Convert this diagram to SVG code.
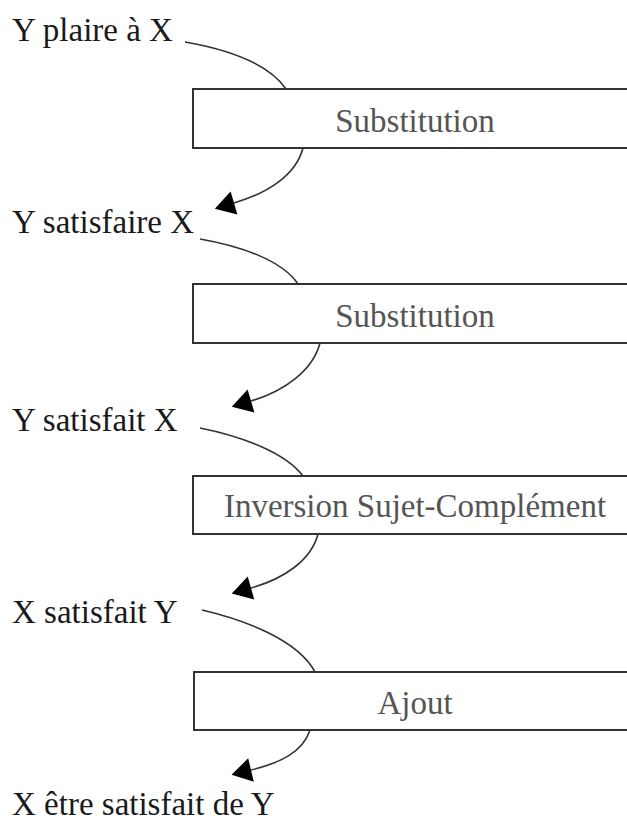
<svg xmlns="http://www.w3.org/2000/svg" width="627" height="823" viewBox="0 0 627 823">
<style>
.lbl{font-family:'Liberation Serif','Tinos','Times New Roman','DejaVu Serif',serif;font-size:33px;fill:#1a1a1a}
.box rect{fill:#fff;stroke:#333;stroke-width:2}
.box text{font-family:'Liberation Serif','Tinos','Times New Roman','DejaVu Serif',serif;font-size:33px;fill:#555;text-anchor:middle}
.edge{fill:none;stroke:#333;stroke-width:1.6}
</style>
<defs>
<marker id="arr" markerUnits="userSpaceOnUse" markerWidth="30" markerHeight="30" refX="0" refY="12" orient="auto" overflow="visible">
<path d="M0,0 L20,12 L0,24 z" fill="#000"/>
</marker>
</defs>
<rect width="627" height="823" fill="#fff"/>
<g id="labels">
<g id="s1"><text class="lbl" x="12" y="41">Y plaire à X</text></g>
<g id="s2"><text class="lbl" x="12" y="233">Y satisfaire X</text></g>
<g id="s3"><text class="lbl" x="12" y="431">Y satisfait X</text></g>
<g id="s4"><text class="lbl" x="12" y="623">X satisfait Y</text></g>
<g id="s5"><text class="lbl" x="12" y="815">X être satisfait de Y</text></g>
</g>
<g id="edges">
<path class="edge" d="M185,42 C225,49 268,63 286,89"/>
<path class="edge" d="M303,148 C296,175 268,193 234,203" marker-end="url(#arr)"/>
<path class="edge" d="M200,239 C240,246 282,260 298,284"/>
<path class="edge" d="M320,343 C313,370 285,391 251,401" marker-end="url(#arr)"/>
<path class="edge" d="M200,428 C240,436 285,452 303,476"/>
<path class="edge" d="M318,534 C311,561 283,579 251,588" marker-end="url(#arr)"/>
<path class="edge" d="M202,610 C245,620 298,640 315,672"/>
<path class="edge" d="M310,730 C303,752 280,763 251,770" marker-end="url(#arr)"/>
</g>
<g id="r1" class="box"><rect x="193" y="89" width="444" height="59"/><text x="415" y="132">Substitution</text></g>
<g id="r2" class="box"><rect x="193" y="284" width="444" height="59"/><text x="415" y="327">Substitution</text></g>
<g id="r3" class="box"><rect x="193" y="476" width="444" height="58"/><text x="415" y="517">Inversion Sujet-Complément</text></g>
<g id="r4" class="box"><rect x="194" y="672" width="444" height="58"/><text x="415" y="714">Ajout</text></g>
</svg>
